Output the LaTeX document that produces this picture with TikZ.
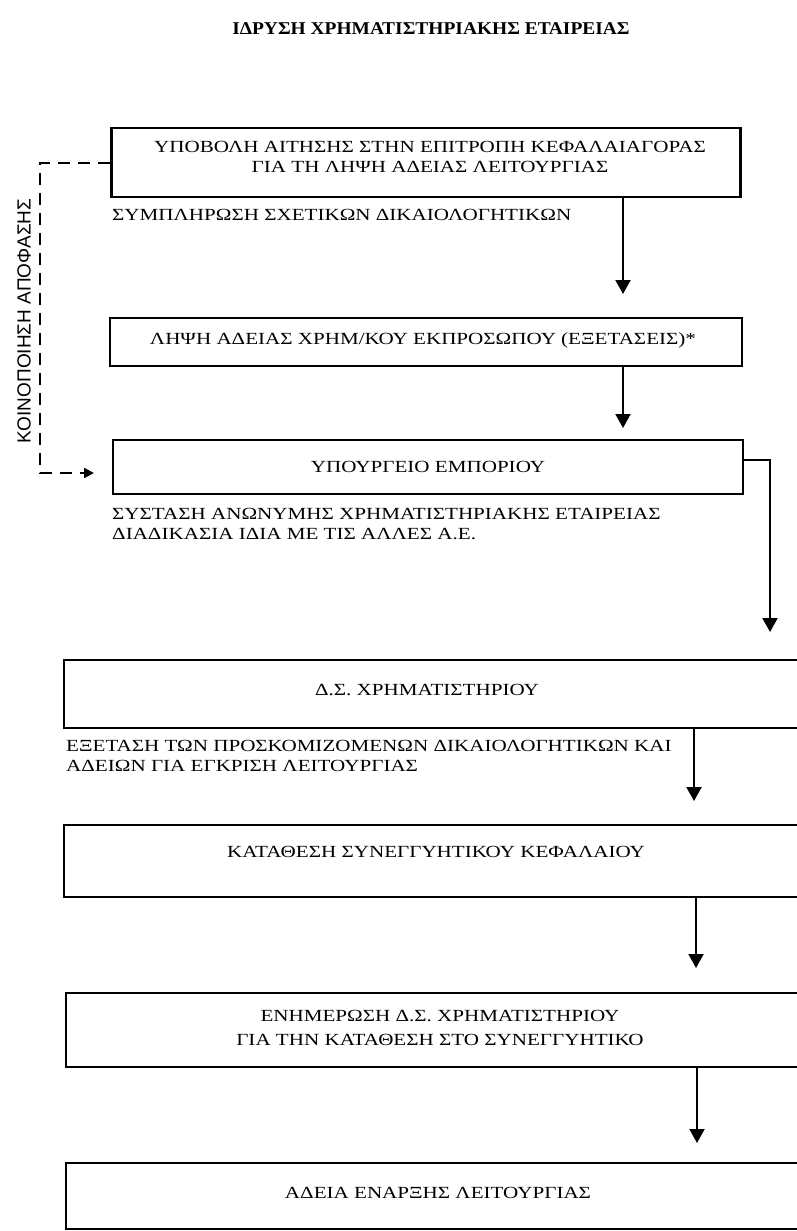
\documentclass[tikz,border=0pt]{standalone}
\usepackage{fontspec}
\setmainfont{Liberation Serif}
\newfontfamily\bodyfont[FakeStretch=1.24]{Liberation Serif}
\newfontfamily\labelfont{Liberation Sans}
\newfontfamily\titlefont[FakeStretch=1.08]{Liberation Serif}
\usetikzlibrary{arrows.meta}
\begin{document}
\begin{tikzpicture}[x=1pt,y=-1pt,
  box/.style={draw,line width=2.8pt,rectangle,inner sep=0pt},
  boxtext/.style={inner sep=0pt,align=center,font=\bodyfont\fontsize{17}{20}\selectfont},
  freetext/.style={inner sep=0pt,anchor=west,align=left,font=\bodyfont\fontsize{17}{20}\selectfont},
  arr/.style={line width=2pt,-{Triangle[length=14pt,width=15pt]}},
  dashline/.style={line width=2.2pt,dash pattern=on 12pt off 8pt},
  dasharr/.style={dashline,-{Triangle[length=10pt,width=10pt]}}]
\useasboundingbox (0,0) rectangle (797,1231);
\clip (0,0) rectangle (797,1231);
% title
\node[inner sep=0pt,font=\titlefont\bfseries\fontsize{18}{20}\selectfont] (title) at (431,29) {ΙΔΡΥΣΗ ΧΡΗΜΑΤΙΣΤΗΡΙΑΚΗΣ ΕΤΑΙΡΕΙΑΣ};
% boxes
\node[box,minimum width=629pt,minimum height=69pt] (b1) at (426,162.5) {};
\node[boxtext] (t1) at (430,157) {ΥΠΟΒΟΛΗ ΑΙΤΗΣΗΣ ΣΤΗΝ ΕΠΙΤΡΟΠΗ ΚΕΦΑΛΑΙΑΓΟΡΑΣ\\ΓΙΑ ΤΗ ΛΗΨΗ ΑΔΕΙΑΣ ΛΕΙΤΟΥΡΓΙΑΣ};
\node[box,minimum width=632pt,minimum height=48pt] (b2) at (426,342) {};
\node[boxtext] (t2) at (423,340) {ΛΗΨΗ ΑΔΕΙΑΣ ΧΡΗΜ/ΚΟΥ ΕΚΠΡΟΣΩΠΟΥ (ΕΞΕΤΑΣΕΙΣ)*};
\node[box,minimum width=630pt,minimum height=54pt] (b3) at (428,467) {};
\node[boxtext] (t3) at (428,467) {ΥΠΟΥΡΓΕΙΟ ΕΜΠΟΡΙΟΥ};
\node[box,minimum width=746pt,minimum height=68pt] (b4) at (437,694) {};
\node[boxtext] (t4) at (427,690) {Δ.Σ. ΧΡΗΜΑΤΙΣΤΗΡΙΟΥ};
\node[box,minimum width=746pt,minimum height=72pt] (b5) at (437,861) {};
\node[boxtext] (t5) at (436,852) {ΚΑΤΑΘΕΣΗ ΣΥΝΕΓΓΥΗΤΙΚΟΥ ΚΕΦΑΛΑΙΟΥ};
\node[box,minimum width=744pt,minimum height=74pt] (b6) at (438,1030) {};
\node[boxtext,font=\bodyfont\fontsize{17}{24}\selectfont] (t6) at (440,1028) {ΕΝΗΜΕΡΩΣΗ Δ.Σ. ΧΡΗΜΑΤΙΣΤΗΡΙΟΥ\\ΓΙΑ ΤΗΝ ΚΑΤΑΘΕΣΗ ΣΤΟ ΣΥΝΕΓΓΥΗΤΙΚΟ};
\node[box,minimum width=744pt,minimum height=66pt] (b7) at (438,1196) {};
\node[boxtext] (t7) at (438,1193) {ΑΔΕΙΑ ΕΝΑΡΞΗΣ ΛΕΙΤΟΥΡΓΙΑΣ};
% free texts
\node[freetext] (n1) at (112,215) {ΣΥΜΠΛΗΡΩΣΗ ΣΧΕΤΙΚΩΝ ΔΙΚΑΙΟΛΟΓΗΤΙΚΩΝ};
\node[freetext] (n2) at (112,524) {ΣΥΣΤΑΣΗ ΑΝΩΝΥΜΗΣ ΧΡΗΜΑΤΙΣΤΗΡΙΑΚΗΣ ΕΤΑΙΡΕΙΑΣ\\ΔΙΑΔΙΚΑΣΙΑ ΙΔΙΑ ΜΕ ΤΙΣ ΑΛΛΕΣ Α.Ε.};
\node[freetext] (n3) at (66,756) {ΕΞΕΤΑΣΗ ΤΩΝ ΠΡΟΣΚΟΜΙΖΟΜΕΝΩΝ ΔΙΚΑΙΟΛΟΓΗΤΙΚΩΝ ΚΑΙ\\ΑΔΕΙΩΝ ΓΙΑ ΕΓΚΡΙΣΗ ΛΕΙΤΟΥΡΓΙΑΣ};
% side label
\node[inner sep=0pt,rotate=90,font=\labelfont\fontsize{19}{22}\selectfont] (side) at (24,321) {ΚΟΙΝΟΠΟΙΗΣΗ ΑΠΟΦΑΣΗΣ};
% coordinates
\coordinate (tip1) at (623,294);
\coordinate (tip2) at (623,428);
\coordinate (c3) at (770,460);
\coordinate (tip3) at (770,632);
\coordinate (tip4) at (694,801);
\coordinate (tip5) at (696,968);
\coordinate (tip6) at (697,1143);
\coordinate (d1) at (40,163);
\coordinate (d2) at (40,473);
\coordinate (dtip) at (94,473);
% connectors
\draw[arr] (b1.south -| tip1) -- (tip1);
\draw[arr] (b2.south -| tip2) -- (tip2);
\draw[arr] (b3.east |- c3) -- (c3) -- (tip3);
\draw[arr] (b4.south -| tip4) -- (tip4);
\draw[arr] (b5.south -| tip5) -- (tip5);
\draw[arr] (b6.south -| tip6) -- (tip6);
\draw[dasharr] (b1.west |- d1) -- (d1) -- (d2) -- (dtip);
\end{tikzpicture}
\end{document}
